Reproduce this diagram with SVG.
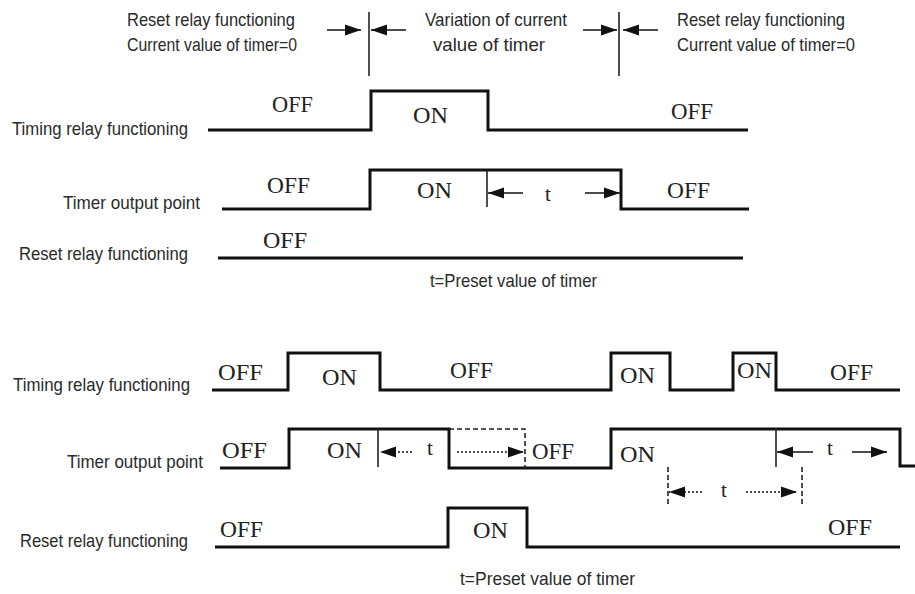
<svg xmlns="http://www.w3.org/2000/svg" width="915" height="594" viewBox="0 0 915 594">
<defs>
<marker id="ah" markerUnits="userSpaceOnUse" markerWidth="18" markerHeight="13" refX="16" refY="6" orient="auto">
<path d="M0,0.5 L16,6 L0,11.5 Z" fill="#111"/>
</marker>
<style>
.lbl{font-family:"Liberation Sans Narrow","Liberation Sans",Arial,sans-serif;font-size:19px;fill:#2a2a2a}
.st{font-family:"Liberation Serif","Times New Roman",serif;font-size:23px;fill:#222}
.tt{font-family:"Liberation Serif","Times New Roman",serif;font-size:21px;fill:#222}
.wave{fill:none;stroke:#111;stroke-width:3;stroke-linejoin:miter}
.tick{stroke:#222;stroke-width:1.6;fill:none}
.dash{stroke:#222;stroke-width:1.6;fill:none;stroke-dasharray:5,3}
.arr{stroke:#111;stroke-width:1.6;fill:none;marker-end:url(#ah)}
.dot{stroke:#111;stroke-width:1.6;fill:none;stroke-dasharray:2,2;marker-end:url(#ah)}
</style>
</defs>
<rect width="915" height="594" fill="#fff"/>

<g id="header">
<text class="lbl" x="127" y="26" textLength="168" lengthAdjust="spacingAndGlyphs">Reset relay functioning</text>
<text class="lbl" x="127" y="51" textLength="170" lengthAdjust="spacingAndGlyphs">Current value of timer=0</text>
<text class="lbl" x="425" y="26" textLength="142" lengthAdjust="spacingAndGlyphs">Variation of current</text>
<text class="lbl" x="433" y="51" textLength="112" lengthAdjust="spacingAndGlyphs">value of timer</text>
<text class="lbl" x="677" y="26" textLength="168" lengthAdjust="spacingAndGlyphs">Reset relay functioning</text>
<text class="lbl" x="677" y="51" textLength="178" lengthAdjust="spacingAndGlyphs">Current value of timer=0</text>
<line class="tick" x1="369" y1="12" x2="369" y2="76"/>
<line class="tick" x1="619" y1="12" x2="619" y2="76"/>
</g>

<g id="top-timing">
<text class="lbl" x="12" y="135" textLength="176" lengthAdjust="spacingAndGlyphs">Timing relay functioning</text>
<path class="wave" d="M208,130 H371 V91 H488 V130 H748"/>
<text class="st" x="272" y="112" textLength="41" lengthAdjust="spacingAndGlyphs">OFF</text>
<text class="st" x="413" y="123" textLength="35" lengthAdjust="spacingAndGlyphs">ON</text>
<text class="st" x="671" y="119" textLength="42" lengthAdjust="spacingAndGlyphs">OFF</text>
</g>

<g id="top-output">
<text class="lbl" x="63" y="209" textLength="137" lengthAdjust="spacingAndGlyphs">Timer output point</text>
<path class="wave" d="M222,209 H370 V170 H621 V209 H749"/>
<text class="st" x="267" y="193" textLength="43" lengthAdjust="spacingAndGlyphs">OFF</text>
<text class="st" x="417" y="198" textLength="35" lengthAdjust="spacingAndGlyphs">ON</text>
<text class="tt" x="545" y="201">t</text>
<text class="st" x="667" y="198" textLength="43" lengthAdjust="spacingAndGlyphs">OFF</text>
<line class="tick" x1="487" y1="170" x2="487" y2="207"/>
</g>

<g id="top-reset">
<text class="lbl" x="19" y="260" textLength="169" lengthAdjust="spacingAndGlyphs">Reset relay functioning</text>
<path class="wave" d="M218,258 H743"/>
<text class="st" x="263" y="248" textLength="44" lengthAdjust="spacingAndGlyphs">OFF</text>
<text class="lbl" x="430" y="287" textLength="167" lengthAdjust="spacingAndGlyphs">t=Preset value of timer</text>
</g>

<g id="bottom-timing">
<text class="lbl" x="13" y="391" textLength="177" lengthAdjust="spacingAndGlyphs">Timing relay functioning</text>
<path class="wave" d="M212,390 H288 V353 H380 V390 H611 V353 H670 V390 H733 V353 H776 V390 H900"/>
<text class="st" x="218" y="380" textLength="45" lengthAdjust="spacingAndGlyphs">OFF</text>
<text class="st" x="322" y="385" textLength="35" lengthAdjust="spacingAndGlyphs">ON</text>
<text class="st" x="450" y="378" textLength="43" lengthAdjust="spacingAndGlyphs">OFF</text>
<text class="st" x="620" y="383" textLength="35" lengthAdjust="spacingAndGlyphs">ON</text>
<text class="st" x="737" y="378" textLength="35" lengthAdjust="spacingAndGlyphs">ON</text>
<text class="st" x="830" y="380" textLength="43" lengthAdjust="spacingAndGlyphs">OFF</text>
</g>

<g id="bottom-output">
<text class="lbl" x="67" y="468" textLength="136" lengthAdjust="spacingAndGlyphs">Timer output point</text>
<path class="wave" d="M220,468 H289 V429 H449 V468 H611 V429 H900 V466 H915"/>
<text class="st" x="222" y="458" textLength="45" lengthAdjust="spacingAndGlyphs">OFF</text>
<text class="st" x="327" y="458" textLength="35" lengthAdjust="spacingAndGlyphs">ON</text>
<text class="tt" x="427" y="455">t</text>
<text class="st" x="532" y="459" textLength="42" lengthAdjust="spacingAndGlyphs">OFF</text>
<text class="st" x="620" y="462" textLength="35" lengthAdjust="spacingAndGlyphs">ON</text>
<text class="tt" x="827" y="455">t</text>
<text class="tt" x="721" y="497">t</text>
<line class="tick" x1="378" y1="429" x2="378" y2="467"/>
<line class="tick" x1="776" y1="429" x2="776" y2="467"/>
<path class="dash" d="M449,429 H525 V468"/>
<line class="dash" x1="668" y1="467" x2="668" y2="505"/>
<line class="dash" x1="802" y1="467" x2="802" y2="505"/>
</g>

<g id="bottom-reset">
<text class="lbl" x="20" y="547" textLength="168" lengthAdjust="spacingAndGlyphs">Reset relay functioning</text>
<path class="wave" d="M215,547 H448 V508 H527 V547 H900"/>
<text class="st" x="220" y="537" textLength="43" lengthAdjust="spacingAndGlyphs">OFF</text>
<text class="st" x="473" y="538" textLength="35" lengthAdjust="spacingAndGlyphs">ON</text>
<text class="st" x="828" y="535" textLength="44" lengthAdjust="spacingAndGlyphs">OFF</text>
<text class="lbl" x="460" y="585" textLength="175" lengthAdjust="spacingAndGlyphs">t=Preset value of timer</text>
</g>

<g id="connectors">
<line class="arr" x1="327" y1="30" x2="361" y2="30"/>
<line class="arr" x1="406" y1="30" x2="371" y2="30"/>
<line class="arr" x1="583" y1="30" x2="617" y2="30"/>
<line class="arr" x1="658" y1="30" x2="623" y2="30"/>
<line class="arr" x1="523" y1="193" x2="488" y2="193"/>
<line class="arr" x1="585" y1="193" x2="620" y2="193"/>
<line class="dot" x1="412" y1="452" x2="380" y2="452"/>
<line class="dot" x1="457" y1="452" x2="524" y2="452"/>
<line class="arr" x1="813" y1="452" x2="777" y2="452"/>
<line class="arr" x1="852" y1="452" x2="887" y2="452"/>
<line class="dot" x1="702" y1="492" x2="669" y2="492"/>
<line class="dot" x1="746" y1="492" x2="797" y2="492"/>
</g>
</svg>
